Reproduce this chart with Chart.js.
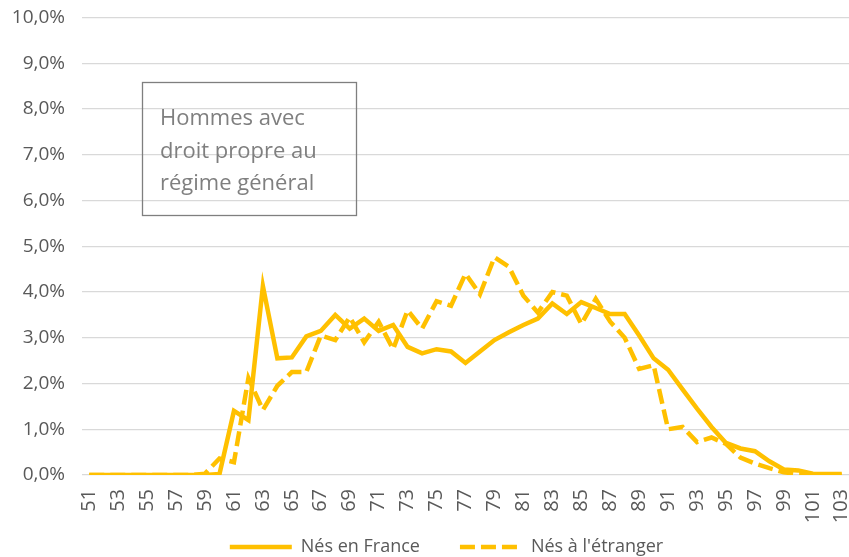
<!DOCTYPE html>
<html>
<head>
<meta charset="utf-8">
<script src="https://cdn.jsdelivr.net/npm/chart.js@4.4.0/dist/chart.umd.min.js"></script>
<style>
  html, body { margin: 0; padding: 0; background: #fff; }
  #wrap { position: relative; width: 849px; height: 557px; }
</style>
</head>
<body>
<div id="wrap"><canvas id="chart" width="849" height="557"></canvas></div>
<script>
// ages on the x axis
const ages = ['51','52','53','54','55','56','57','58','59','60',
  '61','62','63','64','65','66','67','68','69','70',
  '71','72','73','74','75','76','77','78','79','80',
  '81','82','83','84','85','86','87','88','89','90',
  '91','92','93','94','95','96','97','98','99','100',
  '101','102','103'];

// share of each age (%)
const nesFrance = [0, 0, 0, 0, 0, 0, 0, 0, 0, 0.02,
  1.4, 1.2, 4.13, 2.55, 2.57, 3.03, 3.15, 3.5, 3.2, 3.42,
  3.15, 3.28, 2.8, 2.66, 2.75, 2.7, 2.45, 2.7, 2.95, 3.12,
  3.28, 3.42, 3.75, 3.52, 3.78, 3.65, 3.52, 3.52, 3.05, 2.55,
  2.3, 1.87, 1.45, 1.05, 0.7, 0.58, 0.52, 0.3, 0.12, 0.1,
  0.03, 0.02, 0.02];

const nesEtranger = [0, 0, 0, 0, 0, 0, 0, 0, 0.03, 0.36,
  0.28, 2.12, 1.42, 1.95, 2.25, 2.25, 3.05, 2.95, 3.45, 2.9,
  3.35, 2.75, 3.6, 3.2, 3.8, 3.7, 4.4, 3.95, 4.76, 4.55,
  3.92, 3.55, 4.0, 3.92, 3.3, 3.85, 3.35, 3.0, 2.32, 2.4,
  1.0, 1.05, 0.72, 0.82, 0.68, 0.38, 0.25, 0.15, 0.06, 0.02,
  0.01, 0, 0];

const seriesNames = ['Nés en France', "Nés à l'étranger"];
const noteLines = ['Hommes avec', 'droit propre au', 'régime général'];

const GOLD = '#FFC000';
const TXT = '#595959';
Chart.defaults.font.family = "'Open Sans', sans-serif";

// text box in the upper left of the plot
const noteBox = {
  id: 'noteBox',
  afterDraw(chart) {
    const ctx = chart.ctx;
    ctx.save();
    ctx.strokeStyle = '#7f7f7f';
    ctx.lineWidth = 1.3;
    ctx.strokeRect(142.5, 82.5, 214, 133);
    ctx.fillStyle = '#7f7f7f';
    ctx.font = "22px 'Open Sans'";
    ctx.textBaseline = 'alphabetic';
    noteLines.forEach((t, i) => ctx.fillText(t, 160, 125 + i * 32.5));
    ctx.restore();
  }
};

// legend is centred a bit right of the canvas middle
const legendShift = {
  id: 'legendShift',
  afterLayout(chart) {
    if (chart.legend) {
      chart.legend.left += 22;
      chart.legend.right += 22;
    }
  }
};

const ctx = document.getElementById('chart');
new Chart(ctx, {
  type: 'line',
  data: {
    labels: ages,
    datasets: [
      { label: seriesNames[0], data: nesFrance, borderColor: GOLD, backgroundColor: GOLD,
        borderWidth: 4.5, pointRadius: 0, tension: 0, fill: false },
      { label: seriesNames[1], data: nesEtranger, borderColor: GOLD, backgroundColor: GOLD,
        borderWidth: 4.5, borderDash: [15, 6], pointRadius: 0, tension: 0, fill: false }
    ]
  },
  options: {
    responsive: false,
    animation: false,
    layout: { padding: { top: 17.5, right: 0, bottom: -9, left: 0 } },
    plugins: {
      tooltip: { enabled: false },
      legend: {
        position: 'bottom',
        labels: {
          usePointStyle: true,
          pointStyleWidth: 62,
          padding: 40,
          color: TXT,
          font: { size: 18 },
          generateLabels(chart) {
            return chart.data.datasets.map((ds, i) => ({
              text: ds.label,
              fillStyle: ds.borderColor,
              strokeStyle: ds.borderColor,
              fontColor: TXT,
              lineWidth: 4.5,
              lineDash: ds.borderDash || [],
              pointStyle: 'line',
              hidden: false,
              datasetIndex: i
            }));
          }
        }
      }
    },
    scales: {
      x: {
        offset: true,
        grid: { display: false },
        border: { display: false },
        ticks: {
          autoSkip: false,
          minRotation: 90,
          maxRotation: 90,
          padding: 6,
          color: TXT,
          font: { size: 20 },
          callback: function(val, idx) { return idx % 2 === 0 ? this.getLabelForValue(val) : ''; }
        },
        afterFit(scale) {
          // labels hang into the legend's empty top band, so don't clip them
          scale.height = 23;
          scale.paddingLeft = 0;
          scale.paddingRight = 0;
          scale._computeLabelArea = () => null;
        }
      },
      y: {
        min: 0,
        max: 10,
        grid: { color: '#d9d9d9', lineWidth: 1.3, drawTicks: false },
        border: { display: false },
        ticks: {
          stepSize: 1,
          padding: 17,
          color: TXT,
          font: { size: 19 },
          callback: v => v.toFixed(1).replace('.', ',') + '%'
        },
        afterFit(scale) {
          scale.width = 82;
          scale.paddingTop = 0;
          scale.paddingBottom = 0;
        }
      }
    }
  },
  plugins: [noteBox, legendShift]
});
</script>
</body>
</html>
